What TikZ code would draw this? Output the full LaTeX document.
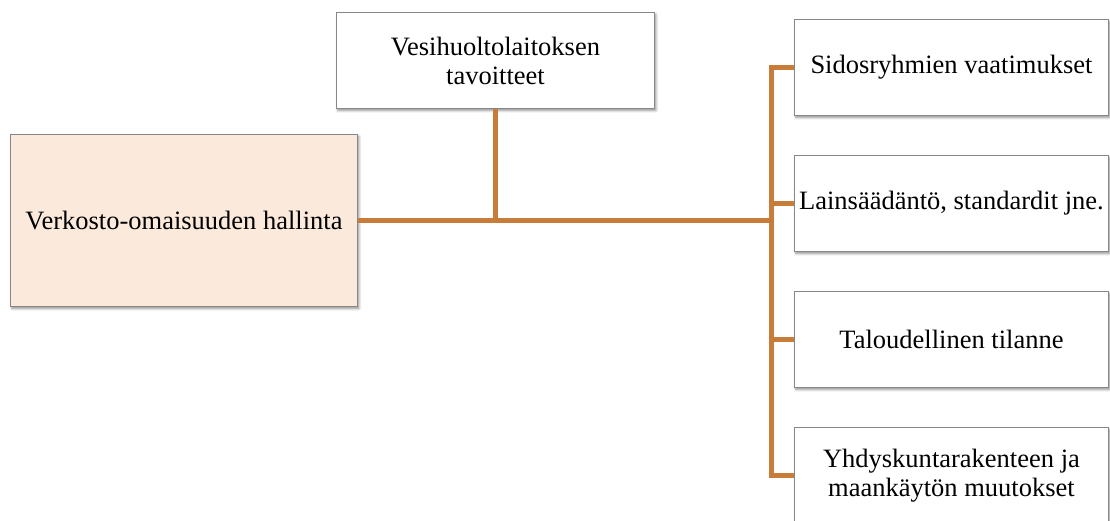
\documentclass[tikz,border=0pt]{standalone}
\usepackage{fontspec}
\setmainfont{Liberation Serif}
\usetikzlibrary{shadows.blur}
\definecolor{linkc}{RGB}{199,124,58}
\definecolor{peach}{RGB}{251,233,219}
\definecolor{edgec}{RGB}{135,135,135}
\begin{document}
\begin{tikzpicture}[x=1pt,y=-1pt,
  box/.style={draw=edgec, line width=0.9pt, fill=white, anchor=north west,
    align=center, inner sep=0pt, font=\fontsize{26.5}{29}\selectfont,
    blur shadow={shadow xshift=1.5pt, shadow yshift=-2pt, shadow blur radius=2.5pt,
      shadow blur steps=6, shadow opacity=45}},
  link/.style={draw=linkc, line width=5pt}]
\useasboundingbox (0,0) rectangle (1110,521);
% main box and the goals box above the line
\node[box, fill=peach, minimum width=347pt, minimum height=172pt] (main) at (10,134)
  {Verkosto-omaisuuden hallinta};
\node[box, minimum width=318pt, minimum height=96pt] (goal) at (336,12)
  {Vesihuoltolaitoksen\\tavoitteet};
% factor boxes on the right
\node[box, minimum width=314pt, minimum height=96pt] (r1) at (794,19) {Sidosryhmien vaatimukset};
\node[box, minimum width=314pt, minimum height=96pt] (r2) at (794,155) {Lainsäädäntö, standardit jne.};
\node[box, minimum width=314pt, minimum height=96pt] (r3) at (794,291) {Taloudellinen tilanne};
\node[box, minimum width=314pt, minimum height=96pt] (r4) at (794,427) {Yhdyskuntarakenteen ja\\maankäytön muutokset};
% connectors
\coordinate (trunk) at (771,0);
\draw[link] (main.east) -- (trunk |- main.east);
\draw[link] (goal.south) -- (goal.south |- main.east);
\draw[link] (r1.west) -| (trunk |- r4.west) -- (r4.west);
\draw[link] (r2.west) -- (trunk |- r2.west);
\draw[link] (r3.west) -- (trunk |- r3.west);
\end{tikzpicture}
\end{document}
